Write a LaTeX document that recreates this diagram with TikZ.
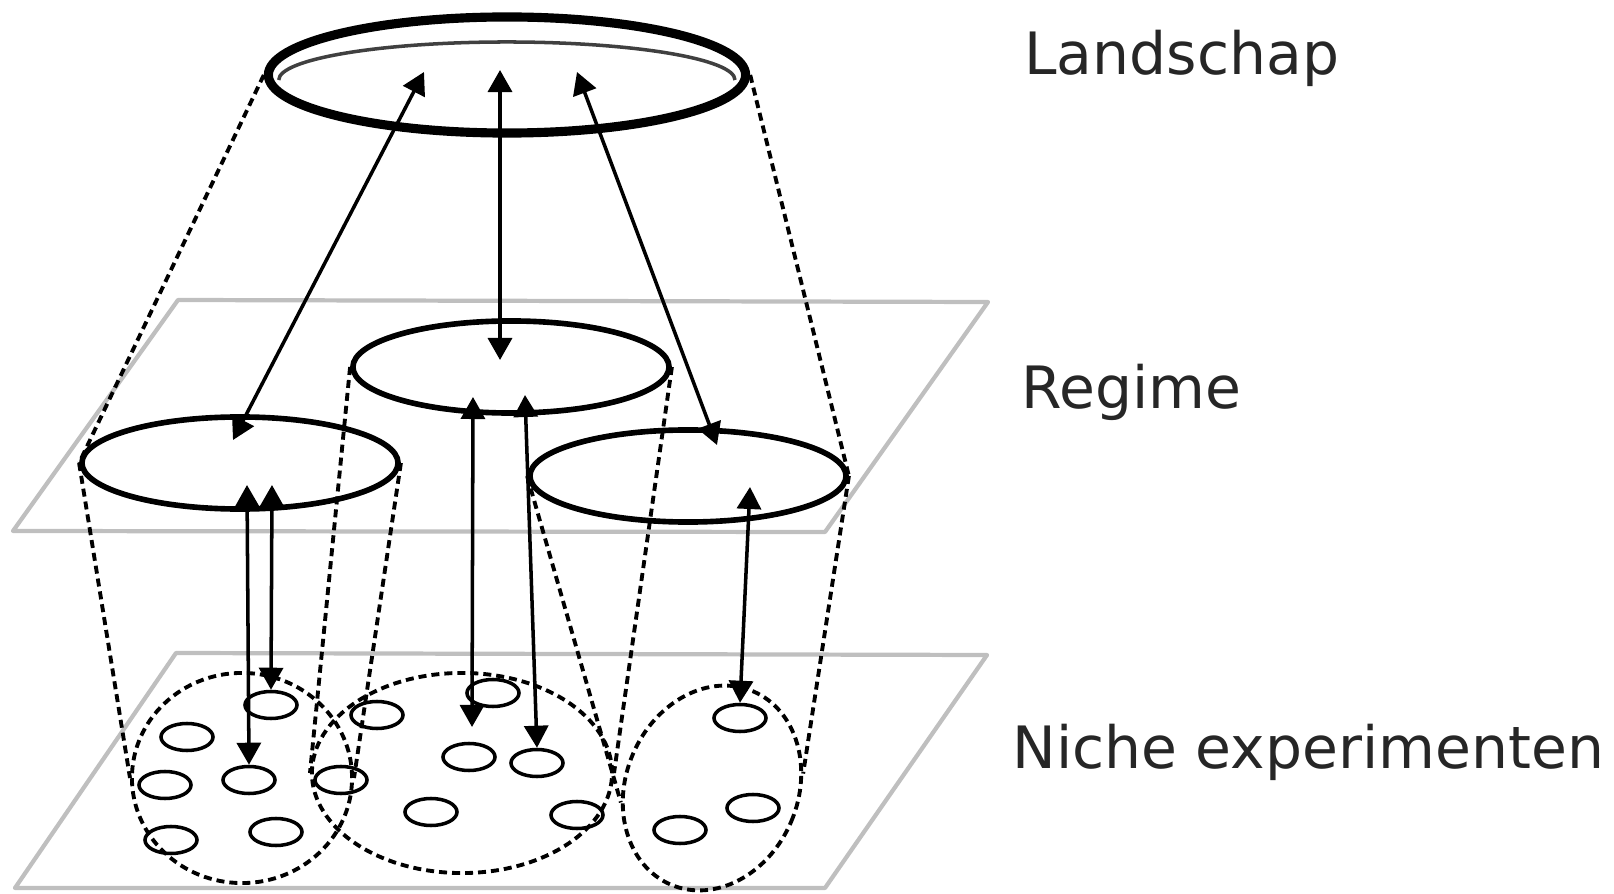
\documentclass[tikz,border=0pt]{standalone}
\usepackage{fontspec}
\setmainfont{DejaVu Sans}
\usepackage{tikz}
\usetikzlibrary{shapes.geometric, arrows.meta}

\begin{document}
\begin{tikzpicture}[x=0.01cm, y=-0.01cm,
    vlak/.style={draw=black!25, line width=1.2pt, line join=round},
    laag/.style={ellipse, draw, inner sep=0pt, line width=1.6pt, minimum width=3.16cm, minimum height=0.92cm},
    groep/.style={ellipse, draw, inner sep=0pt, line width=1.1pt, dash pattern=on 0.08cm off 0.05cm},
    kegel/.style={line width=1.1pt, dash pattern=on 0.08cm off 0.05cm},
    niche/.style={ellipse, draw, inner sep=0pt, line width=1pt, minimum width=0.52cm, minimum height=0.27cm},
    wissel/.style={{Triangle[length=0.22cm,width=0.24cm]}-{Triangle[length=0.22cm,width=0.24cm]}, line width=1pt},
    laagnaam/.style={anchor=base west, font=\fontsize{16.6}{20}\selectfont, text=black!85}]
                \useasboundingbox (0,0) rectangle (1614,894);

                % planes
                \draw[vlak] (178,300) -- (988,302) -- (825,532) -- (13,531) -- cycle;
                \draw[vlak] (176,653) -- (987,655) -- (825,888) -- (15,888) -- cycle;

                % landscape
                \node[ellipse, draw, inner sep=0pt, line width=2.6pt, minimum width=4.77cm, minimum height=1.16cm] (land) at (507,75) {};
                \draw[line width=1pt, black!75] (735,80) arc[start angle=0, end angle=180, x radius=2.28cm, y radius=0.38cm];

                % regimes
                \node[laag] (regC) at (511,367) {};
                \node[laag] (regL) at (240,463) {};
                \node[laag] (regR) at (688,476) {};

                % niche groups
                \node[groep, minimum width=2.2cm, minimum height=2.1cm] (grpL) at (242,778) {};
                \node[groep, minimum width=3.0cm, minimum height=2.0cm] (grpM) at (462,773) {};
                \node[groep, minimum width=1.72cm, minimum height=2.1cm, rotate=-23] (grpR) at (712,788) {};

                % cone lines
                \draw[kegel] (land.west) -- (regL.west);
                \draw[kegel] (land.east) -- (regR.east);
                \draw[kegel] (regL.west) -- (grpL.west);
                \draw[kegel] (regL.east) -- (grpL.east);
                \draw[kegel] (regC.west) -- (grpM.west);
                \draw[kegel] (regC.east) -- (grpM.east);
                \draw[kegel] (regR.west) -- (grpR.212);
                \draw[kegel] (regR.east) -- (grpR.32);

                % small niches
                \foreach \nx/\ny [count=\i] in {271/705, 187/737, 165/785, 249/780, 276/832, 171/840,
                    377/715, 493/693, 341/780, 469/757, 537/763, 431/812, 577/815,
                    740/718, 753/808, 680/830} {
                    \node[niche] (n\i) at (\nx,\ny) {};
                }

                % arrow ends
                \coordinate (t1) at (424,72);
                \coordinate (t2) at (500,70);
                \coordinate (t3) at (577,72);
                \coordinate (l1) at (233,440);
                \coordinate (c1) at (500,360);
                \coordinate (r1) at (717,445);
                \coordinate (l2) at (247,485);
                \coordinate (l3) at (272,485);
                \coordinate (c2) at (473,397);
                \coordinate (c3) at (525,395);
                \coordinate (c4) at (472,727);
                \coordinate (r2) at (750,487);

                % arrows
                \draw[wissel] (t1) -- (l1);
                \draw[wissel] (t2) -- (c1);
                \draw[wissel] (t3) -- (r1);
                \draw[wissel] (l2) -- (n4.north);
                \draw[wissel] (l3) -- (n1.north);
                \draw[wissel] (c2) -- (c4);
                \draw[wissel] (c3) -- (n11.north);
                \draw[wissel] (r2) -- (n14.north);

                % layer names
                \node[laagnaam] (tl) at (1012,75) {Landschap};
                \node[laagnaam] (tr) at (1009,409) {Regime};
                \node[laagnaam] (tn) at (1000,768) {Niche experimenten};
\end{tikzpicture}
\end{document}
